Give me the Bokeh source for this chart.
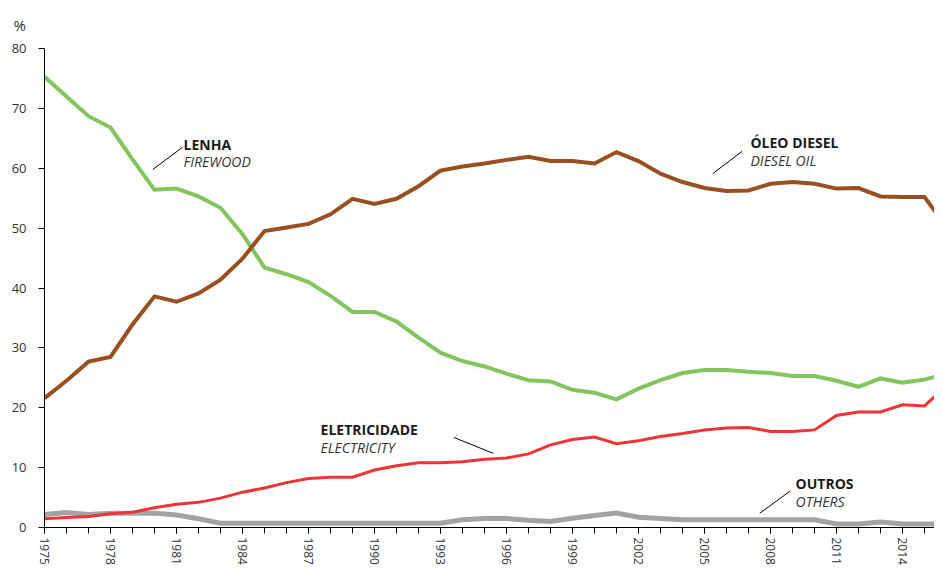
from bokeh.plotting import figure
from bokeh.models import Range1d, FixedTicker, Label
from bokeh.embed import file_html
from bokeh.resources import INLINE

years = list(range(1975, 2017))
lenha = [75.3, 72.0, 68.7, 66.8, 61.5, 56.4, 56.6, 55.3, 53.4, 49.0,
         43.4, 42.3, 41.0, 38.7, 36.0, 36.0, 34.4, 31.7, 29.2, 27.8,
         26.9, 25.7, 24.6, 24.4, 23.0, 22.5, 21.4, 23.2, 24.6, 25.8,
         26.3, 26.3, 26.0, 25.8, 25.3, 25.3, 24.5, 23.5, 24.9, 24.2,
         24.7, 25.7]
diesel = [21.6, 24.5, 27.7, 28.5, 33.9, 38.6, 37.7, 39.1, 41.4, 44.9,
          49.5, 50.1, 50.7, 52.3, 54.9, 54.05, 54.9, 57.0, 59.6, 60.3,
          60.8, 61.4, 61.9, 61.2, 61.2, 60.8, 62.7, 61.2, 59.1, 57.7,
          56.7, 56.2, 56.3, 57.4, 57.7, 57.4, 56.6, 56.7, 55.3, 55.2,
          55.2, 50.2]
eletricidade = [1.45, 1.67, 1.83, 2.28, 2.56, 3.3, 3.9, 4.2, 4.9, 5.9,
                6.6, 7.5, 8.2, 8.4, 8.4, 9.6, 10.3, 10.8, 10.8, 11.0,
                11.4, 11.6, 12.3, 13.8, 14.7, 15.1, 14.0, 14.5, 15.2, 15.7,
                16.3, 16.6, 16.7, 16.05, 16.05, 16.3, 18.7, 19.3, 19.3, 20.5,
                20.3, 23.7]
outros = [2.17, 2.5, 2.17, 2.4, 2.4, 2.4, 2.1, 1.45, 0.72, 0.72,
          0.72, 0.72, 0.72, 0.72, 0.72, 0.72, 0.72, 0.72, 0.72, 1.28,
          1.5, 1.5, 1.2, 1.0, 1.55, 2.0, 2.4, 1.7, 1.5, 1.28,
          1.28, 1.28, 1.28, 1.28, 1.28, 1.28, 0.6, 0.6, 0.9, 0.6,
          0.6, 0.6]

x_tick_labels = [1975, 1978, 1981, 1984, 1987, 1990, 1993, 1996, 1999,
                 2002, 2005, 2008, 2011, 2014]
y_ticks = [0, 10, 20, 30, 40, 50, 60, 70, 80]

series = [
    (outros, "#A3A3A3", 5),
    (eletricidade, "#EE3535", 3),
    (lenha, "#82C55E", 4),
    (diesel, "#9A4F20", 4),
]

# annotation texts: (bold, italic, x, y_bold, y_italic, leader x0,y0,x1,y1)
annotations = [
    ("LENHA", "FIREWOOD", 1981.32, 64.0, 61.05, 1979.92, 59.78, 1981.29, 63.55),
    ("ÓLEO DIESEL", "DIESEL OIL", 2007.09, 64.38, 61.28, 2005.38, 59.12, 2006.71, 62.83),
    ("ELETRICIDADE", "ELECTRICITY", 1987.55, 16.45, 13.38, 1993.60, 15.05, 1995.40, 12.38),
    ("OUTROS", "OTHERS", 2009.14, 7.28, 4.38, 2007.51, 2.38, 2008.88, 6.05),
]

FONT = "Open Sans"

p = figure(width=934, height=567, output_backend="svg", toolbar_location=None,
           x_range=Range1d(1975, 1975 + 890 / 22), y_range=Range1d(0, 80),
           min_border_left=44, min_border_top=48, min_border_bottom=40,
           min_border_right=0)
p.outline_line_color = None
p.xgrid.visible = False
p.ygrid.visible = False
p.background_fill_color = "white"
p.border_fill_color = "white"

p.title.text = "%"
p.title.align = "left"
p.title.vertical_align = "top"
p.title.offset = -31
p.title.text_font = FONT
p.title.text_font_size = "15px"
p.title.text_font_style = "normal"
p.title.text_color = "#333333"
p.title.standoff = 24

for ys, color, lw in series:
    p.line(years, ys, line_color=color, line_width=lw, line_join="miter")

for bold, ital, tx, yb, yi, x0, y0, x1, y1 in annotations:
    p.add_layout(Label(x=tx, y=yb, text=bold, text_font=FONT, text_font_style="bold",
                       text_font_size="14px", text_color="#1a1a1a",
                       text_baseline="alphabetic", text_align="left"))
    p.add_layout(Label(x=tx, y=yi, text=ital, text_font=FONT, text_font_style="italic",
                       text_font_size="14px", text_color="#333333",
                       text_baseline="alphabetic", text_align="left"))
    p.segment(x0=[x0], y0=[y0], x1=[x1], y1=[y1], line_color="black", line_width=1)

xa = p.xaxis[0]
xa.ticker = FixedTicker(ticks=x_tick_labels, minor_ticks=years)
xa.major_label_orientation = "vertical"
xa.major_label_text_font = FONT
xa.major_label_text_font_size = "12px"
xa.major_label_text_color = "#333333"
xa.major_tick_out = 6
xa.major_tick_in = 0
xa.minor_tick_out = 6
xa.minor_tick_in = 0
xa.major_label_standoff = 4
xa.axis_line_color = "black"
xa.major_tick_line_color = "black"
xa.minor_tick_line_color = "black"

ya = p.yaxis[0]
ya.ticker = FixedTicker(ticks=y_ticks)
ya.major_label_text_font = FONT
ya.major_label_text_font_size = "13px"
ya.major_label_text_color = "#333333"
ya.major_tick_out = 6
ya.major_tick_in = 0
ya.minor_tick_line_color = None
ya.major_label_standoff = 12
ya.axis_line_color = "black"
ya.major_tick_line_color = "black"

open("out.html", "w").write(file_html(p, INLINE))
